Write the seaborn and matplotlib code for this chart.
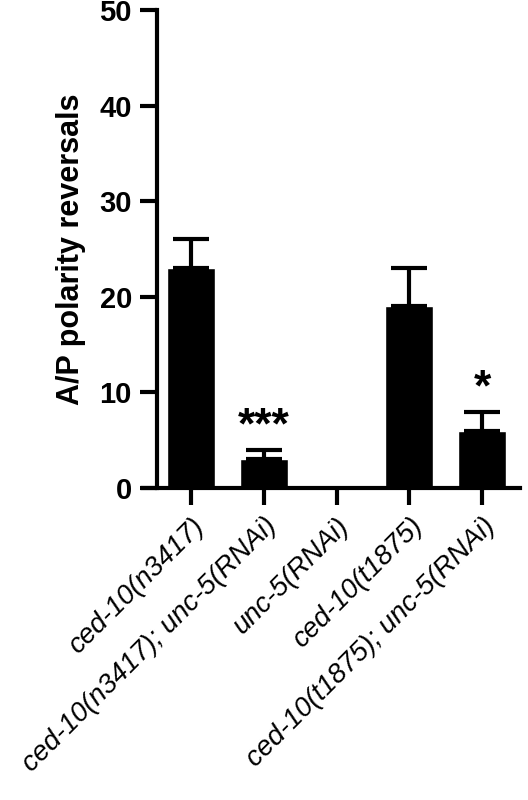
import matplotlib
matplotlib.use("Agg")
import matplotlib.pyplot as plt
import seaborn as sns
import pandas as pd

strains = ["ced-10(n3417)", "ced-10(n3417); unc-5(RNAi)", "unc-5(RNAi)",
           "ced-10(t1875)", "ced-10(t1875); unc-5(RNAi)"]
reversals = [23, 3, 0, 19, 6]
errors = [3, 1, 0, 4, 2]
stars = ["", "***", "", "", "*"]

sns.set_theme(style="ticks")
plt.rcParams["font.family"] = ["Liberation Sans", "DejaVu Sans"]
plt.rcParams["font.weight"] = "bold"
plt.rcParams["text.color"] = "black"

data = pd.DataFrame({"Strain": strains, "Reversals": reversals})

fig = plt.figure(figsize=(5.28, 8), dpi=100)
ax = fig.add_axes([0.271, 0.39, 0.714, 0.5975])
sns.barplot(data=data, x="Strain", y="Reversals", color="black",
            width=0.66, saturation=1, errorbar=None, ax=ax)
for i, (v, e) in enumerate(zip(reversals, errors)):
    if e > 0:
        ax.errorbar(i, v, yerr=[[0], [e]], color="black", lw=3,
                    capsize=13, capthick=3)
    if stars[i]:
        ax.text(i, v + e + 0.2, stars[i], ha="center", va="bottom",
                fontsize=32, fontweight="bold", color="black")

ax.set_ylim(0, 50)
ax.set_xlim(-0.66, 4.52)
ax.spines["left"].set_position(("data", -0.47))
ax.set_yticks(range(0, 51, 10))
ax.set_ylabel("A/P polarity reversals", fontsize=22, fontweight="bold",
              labelpad=10, color="black")
ax.set_xlabel("")
ax.set_xticks(range(len(strains)))
ax.set_xticklabels(strains, rotation=45, ha="right", rotation_mode="anchor",
                   fontsize=20, fontstyle="italic", fontweight="normal",
                   color="black")
for lab in ax.get_yticklabels():
    lab.set_fontsize(21)
    lab.set_fontweight("bold")
    lab.set_color("black")
ax.tick_params(axis="both", width=3, length=12, color="black", pad=6)
for s in ["top", "right"]:
    ax.spines[s].set_visible(False)
for s in ["left", "bottom"]:
    ax.spines[s].set_linewidth(3)
    ax.spines[s].set_color("black")

fig.savefig("out.png", dpi=100)
